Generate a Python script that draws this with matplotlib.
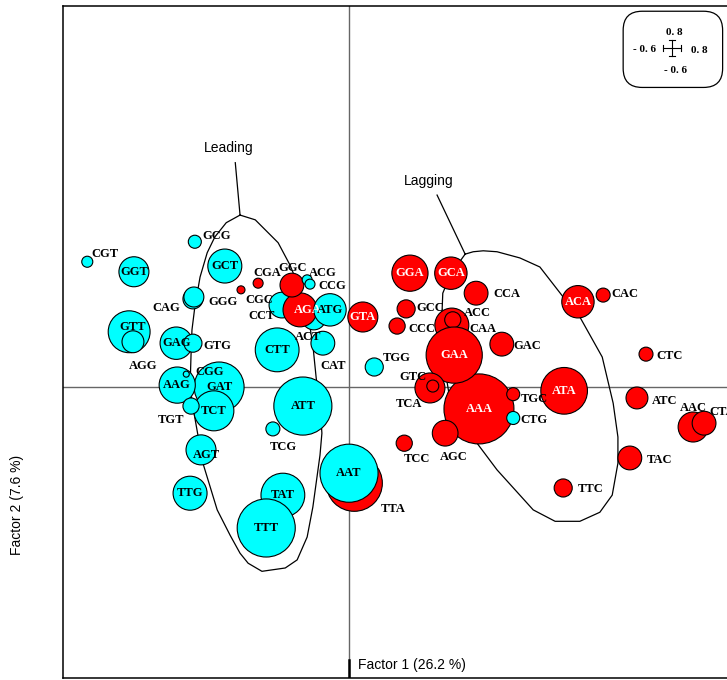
import matplotlib.pyplot as plt
from matplotlib.patches import Circle, FancyBboxPatch

# codon coordinates on the two first factors, bubble radius in factor units
codons = ['CGT', 'GGT', 'GCG', 'GCT', 'CAG', 'GGG', 'GTT', 'AGG', 'GAG', 'GTG',
          'ACT', 'CCT', 'CGA', 'CGC', 'AGA', 'GGC', 'ATG', 'ACG', 'CCG', 'CAT',
          'CTT', 'GAT', 'AAG', 'CGG', 'TCT', 'TGT', 'ATT', 'TCG', 'AGT', 'TTG',
          'TAT', 'TTT', 'TTA', 'AAT', 'GTA', 'GGA', 'GCA', 'CCA', 'GCC', 'CCC',
          'AAA', 'CAA', 'ACC', 'GAA', 'GAC', 'TGG', 'TCA', 'GTC', 'TGC', 'CTG',
          'AGC', 'TCC', 'ATA', 'TTC', 'ACA', 'CAC', 'CTC', 'ATC', 'AAC', 'CTA',
          'TAC']
f1 = [-0.550, -0.452, -0.324, -0.261, -0.328, -0.326, -0.462, -0.454, -0.363, -0.328,
      -0.074, -0.141, -0.191, -0.227, -0.103, -0.120, -0.040, -0.088, -0.082, -0.055,
      -0.151, -0.273, -0.361, -0.342, -0.284, -0.332, -0.097, -0.160, -0.311, -0.334,
      -0.139, -0.174, 0.011, 0.000, 0.029, 0.128, 0.214, 0.267, 0.120, 0.101,
      0.273, 0.216, 0.218, 0.221, 0.321, 0.053, 0.170, 0.176, 0.345, 0.345,
      0.202, 0.116, 0.452, 0.450, 0.481, 0.534, 0.624, 0.605, 0.723, 0.746,
      0.590]
f2 = [0.263, 0.242, 0.305, 0.254, 0.185, 0.189, 0.116, 0.095, 0.092, 0.092,
      0.145, 0.172, 0.218, 0.204, 0.162, 0.214, 0.162, 0.225, 0.216, 0.092,
      0.078, 0.000, 0.004, 0.027, -0.050, -0.040, -0.040, -0.088, -0.132, -0.223,
      -0.227, -0.296, -0.202, -0.181, 0.147, 0.239, 0.239, 0.197, 0.164, 0.128,
      -0.046, 0.130, 0.141, 0.067, 0.090, 0.042, -0.002, 0.002, -0.015, -0.065,
      -0.097, -0.118, -0.008, -0.212, 0.179, 0.193, 0.069, -0.023, -0.084, -0.076,
      -0.149]
radius = [0.0116, 0.0315, 0.0137, 0.0357, 0.021, 0.021, 0.044, 0.023, 0.034, 0.019,
          0.025, 0.027, 0.0105, 0.0084, 0.0357, 0.025, 0.034, 0.0105, 0.0105, 0.025,
          0.046, 0.0525, 0.038, 0.0063, 0.042, 0.017, 0.061, 0.0147, 0.0315, 0.0357,
          0.046, 0.061, 0.059, 0.061, 0.0315, 0.038, 0.034, 0.025, 0.019, 0.017,
          0.0735, 0.0357, 0.017, 0.059, 0.025, 0.019, 0.0315, 0.0126, 0.0137, 0.0137,
          0.027, 0.017, 0.049, 0.019, 0.034, 0.0147, 0.0147, 0.023, 0.0315, 0.025,
          0.025]
# T/G ending codons on the leading side, A/C ending on the lagging side
strand = ['lead' if c[-1] in 'TG' else 'lag' for c in codons]

lead_x = [-0.229, -0.197, -0.174, -0.149, -0.124, -0.103, -0.086, -0.076, -0.069, -0.061,
          -0.057, -0.061, -0.076, -0.088, -0.109, -0.134, -0.183, -0.212, -0.229, -0.250,
          -0.277, -0.307, -0.328, -0.334, -0.332, -0.330, -0.324, -0.313, -0.298, -0.282,
          -0.258, -0.229]
lead_y = [0.361, 0.351, 0.328, 0.303, 0.256, 0.204, 0.151, 0.088, 0.019, -0.038,
          -0.097, -0.143, -0.252, -0.315, -0.363, -0.380, -0.387, -0.370, -0.349, -0.311,
          -0.258, -0.160, -0.042, 0.000, 0.067, 0.120, 0.168, 0.231, 0.282, 0.315,
          0.345, 0.361]
lag_x = [0.244, 0.261, 0.282, 0.311, 0.359, 0.401, 0.450, 0.485, 0.532, 0.555,
         0.565, 0.565, 0.553, 0.527, 0.485, 0.433, 0.387, 0.349, 0.311, 0.269,
         0.237, 0.212, 0.202, 0.195, 0.195, 0.197, 0.204, 0.223, 0.244]
lag_y = [0.279, 0.284, 0.286, 0.284, 0.271, 0.252, 0.189, 0.147, 0.063, -0.034,
         -0.105, -0.160, -0.227, -0.263, -0.282, -0.282, -0.258, -0.216, -0.174, -0.118,
         -0.080, -0.027, 0.036, 0.099, 0.147, 0.197, 0.214, 0.250, 0.279]

# label offsets in pixels (right, down) for labels set beside their bubble
outside = {
    'CGT': (18, -8), 'GCG': (22, -6), 'GGG': (29, 5), 'CAG': (-27, 9), 'AGG': (10, 24),
    'GTG': (24, 3), 'CGA': (9, -10), 'CGC': (18, 10), 'GGC': (1, -17), 'ACG': (16, -7),
    'CCG': (22, 2), 'CCT': (-20, 11), 'ACT': (-6, 19), 'CAT': (10, 23), 'CGG': (23, -2),
    'TGT': (-20, 14), 'TCG': (10, 18), 'TGG': (22, -9), 'CTG': (21, 2), 'GCC': (24, -1),
    'CCC': (25, 3), 'ACC': (25, -7), 'CAA': (31, 4), 'CCA': (31, 1), 'GAC': (25, 2),
    'GTC': (-20, -9), 'TCA': (-21, 16), 'TGC': (21, 5), 'AGC': (9, 24), 'TCC': (13, 16),
    'TTA': (39, 26), 'TTC': (27, 1), 'CAC': (22, -1), 'CTC': (24, 2), 'ATC': (28, 3),
    'AAC': (0, -19), 'CTA': (18, -11), 'TAC': (30, 2),
}
inside = {'GTT': (3, -5), 'AGA': (8, 0), 'AGT': (5, 5)}

colors = {'lead': '#00ffff', 'lag': '#ff0000'}
lab_font = dict(family='Liberation Serif', fontweight='bold', fontsize=9)

fig = plt.figure(figsize=(7.27, 6.8), dpi=100)
ax = fig.add_axes([63 / 727, 2 / 680, 672 / 727, 672 / 680])
ax.set_xlim(-0.601, 0.811)
ax.set_ylim(-0.611, 0.800)
ax.set_xticks([])
ax.set_yticks([])
for s in ax.spines.values():
    s.set_linewidth(1.1)

ax.axhline(0, color='0.4', lw=1, zorder=1)
ax.axvline(0, color='0.4', lw=1, zorder=1)
ax.plot([0, 0], [-0.611, -0.573], color='black', lw=1.8, zorder=1)

ax.plot(lead_x, lead_y, color='black', lw=0.9, zorder=2)
ax.plot(lag_x, lag_y, color='black', lw=0.9, zorder=2)
ax.plot([-0.239, -0.229], [0.471, 0.361], color='black', lw=0.9, zorder=2)
ax.plot([0.185, 0.244], [0.403, 0.279], color='black', lw=0.9, zorder=2)
ax.text(-0.252, 0.502, 'Leading', ha='center', va='center', fontsize=10,
        family='Liberation Sans')
ax.text(0.168, 0.433, 'Lagging', ha='center', va='center', fontsize=10,
        family='Liberation Sans')

for i, c in enumerate(codons):
    ax.add_patch(Circle((f1[i], f2[i]), radius[i], facecolor=colors[strand[i]],
                        edgecolor='black', lw=0.8, zorder=3 + i * 0.01))

for i, c in enumerate(codons):
    if c in outside:
        dx, dy = outside[c]
        tc = 'black'
    else:
        dx, dy = inside.get(c, (0, 0))
        tc = 'white' if strand[i] == 'lag' else 'black'
    ax.annotate(c, (f1[i], f2[i]), xytext=(dx * 0.72, -dy * 0.72),
                textcoords='offset points', ha='center', va='center',
                color=tc, zorder=10, **lab_font)

# scale box in the corner
box = FancyBboxPatch((0.571 + 0.045, 0.639 + 0.03), 0.219 - 0.09, 0.140 - 0.06,
                     boxstyle='round,pad=0.04', facecolor='white',
                     edgecolor='black', lw=0.9, zorder=11)
ax.add_patch(box)
cx, cy = 0.679, 0.712
ax.plot([cx - 0.019, cx + 0.019], [cy, cy], color='black', lw=0.8, zorder=12)
ax.plot([cx, cx], [cy - 0.017, cy + 0.017], color='black', lw=0.8, zorder=12)
for ex in (cx - 0.019, cx + 0.019):
    ax.plot([ex, ex], [cy - 0.006, cy + 0.006], color='black', lw=0.8, zorder=12)
for ey in (cy - 0.017, cy + 0.017):
    ax.plot([cx - 0.006, cx + 0.006], [ey, ey], color='black', lw=0.8, zorder=12)
small = dict(family='Liberation Serif', fontweight='bold', fontsize=8,
             ha='center', va='center', zorder=12)
ax.text(0.683, 0.744, '0. 8', **small)
ax.text(0.620, 0.708, '- 0. 6', **small)
ax.text(0.735, 0.706, '0. 8', **small)
ax.text(0.687, 0.664, '- 0. 6', **small)

fig.text(358 / 727, 1 - 665 / 680, 'Factor 1 (26.2 %)', ha='left', va='center',
         fontsize=10, family='Liberation Sans')
fig.text(17 / 727, 1 - 505 / 680, 'Factor 2 (7.6 %)', ha='center', va='center',
         rotation=90, fontsize=10, family='Liberation Sans')

fig.savefig('out.png', dpi=100)
